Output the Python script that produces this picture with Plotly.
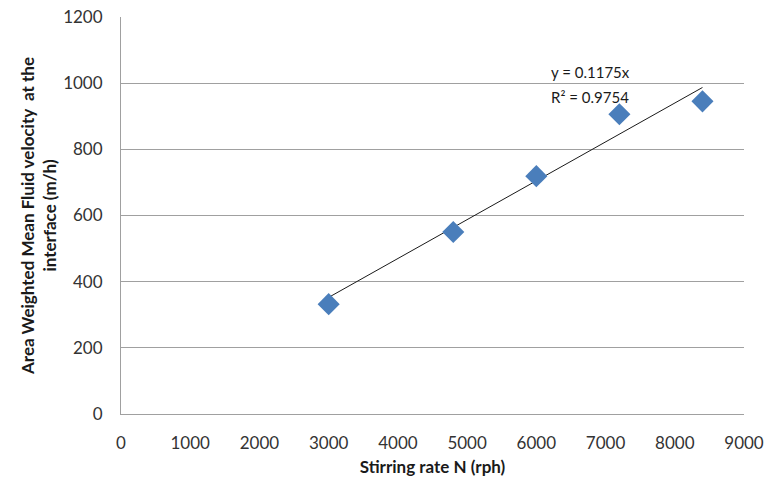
import plotly.graph_objects as go

stirring_rate = [3000, 4800, 6000, 7200, 8400]
velocity = [332, 550, 719, 906, 945]
slope = 0.1175
r2 = 0.9754
trend_x = [3000, 8400]
trend_y = [slope * v for v in trend_x]

x_ticks = list(range(0, 9001, 1000))
y_ticks = list(range(0, 1201, 200))

font_family = "Lato, Open Sans, sans-serif"

fig = go.Figure()
fig.add_trace(go.Scatter(
    x=trend_x, y=trend_y, mode="lines",
    line=dict(color="#1a1a1a", width=1), showlegend=False, hoverinfo="skip"))
fig.add_trace(go.Scatter(
    x=stirring_rate, y=velocity, mode="markers",
    marker=dict(symbol="diamond", size=17, color="#4A7EBB", line=dict(width=0)),
    showlegend=False))

fig.add_annotation(
    x=6180, y=1033, xref="x", yref="y", xanchor="left", yanchor="middle",
    text=f"y = {slope}x", showarrow=False,
    font=dict(family=font_family, size=15, color="#1a1a1a"))
fig.add_annotation(
    x=6180, y=958, xref="x", yref="y", xanchor="left", yanchor="middle",
    text=f"R² = {r2}", showarrow=False,
    font=dict(family=font_family, size=15, color="#1a1a1a"))

fig.update_layout(
    width=766, height=484,
    margin=dict(l=121, r=22, t=17, b=70, autoexpand=False),
    paper_bgcolor="white", plot_bgcolor="white",
    font=dict(family=font_family, size=17, color="#333333"),
    xaxis=dict(
        range=[0, 9000], tickvals=x_ticks, showgrid=False, zeroline=False,
        showline=True, linecolor="#A0A0A0", linewidth=1, ticks="",
        automargin=False, ticklabelstandoff=14, ticklabeloverflow="allow",
        title=dict(text="<b>Stirring rate N (rph)</b>", font=dict(size=17, color="#1a1a1a"), standoff=8),
        tickfont=dict(size=17, color="#333333")),
    yaxis=dict(
        range=[0, 1200], tickvals=y_ticks, showgrid=True, gridcolor="#A0A0A0", gridwidth=1,
        zeroline=False, showline=True, linecolor="#A0A0A0", linewidth=1, ticks="",
        automargin=False, ticklabelstandoff=14, ticklabeloverflow="allow",
        title=dict(text="<b>Area Weighted Mean Fluid velocity  at the<br>interface (m/h)</b>",
                   font=dict(size=17, color="#1a1a1a"), standoff=2),
        tickfont=dict(size=17, color="#333333")),
)

fig.write_html(
    "out.html",
    config={"displayModeBar": False},
    post_script="document.body.style.margin='0px';document.body.style.overflow='hidden';",
)
